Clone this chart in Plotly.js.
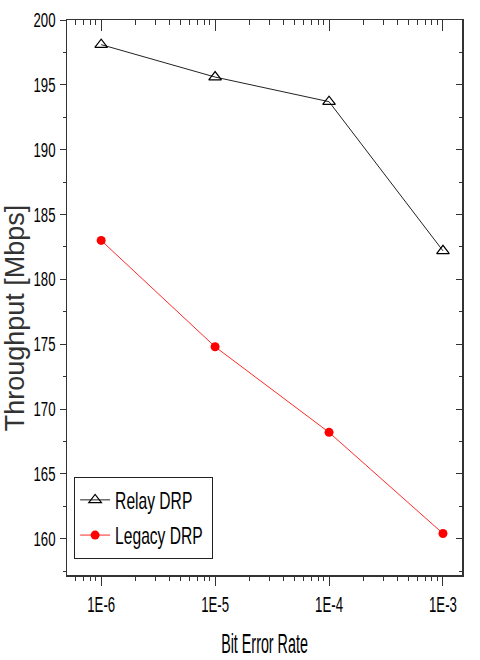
<!DOCTYPE html>
<html><head><meta charset="utf-8">
<script src="https://cdn.plot.ly/plotly-3.0.1.min.js"></script>
<style>html,body{margin:0;padding:0;background:#fff}</style>
</head><body>
<div id="chart" style="width:480px;height:660px"></div>
<script>
const ber = [1e-6, 1e-5, 1e-4, 1e-3];
const berLabels = ["1E-6", "1E-5", "1E-4", "1E-3"];
const relayDRP = [198.1, 195.6, 193.7, 182.2];
const legacyDRP = [183.0, 174.8, 168.2, 160.4];
const yTicks = [160, 165, 170, 175, 180, 185, 190, 195, 200];

const sans = "Liberation Sans, Arial, sans-serif";
const data = [
  {x: ber, y: relayDRP, name: "Relay DRP", legendgroup: "a", mode: "lines+markers", type: "scatter",
   line: {color: "#222", width: 1},
   marker: {symbol: "triangle-up-open", size: 11, color: "#000", line: {width: 1.2}}},
  {x: ber, y: legacyDRP, name: "Legacy DRP", legendgroup: "b", mode: "lines+markers", type: "scatter",
   line: {color: "#ff2a2a", width: 1},
   marker: {symbol: "circle", size: 9, color: "#ff0000"}},
  {x: ber, y: relayDRP, xaxis: "x2", yaxis: "y2", mode: "markers", showlegend: false,
   hoverinfo: "skip", marker: {opacity: 0}}
];
const xr = [Math.log10(1e-6) - 0.3, Math.log10(1e-3) + 0.167];
const yr = [157.2, 200];
const layout = {
  width: 480, height: 660,
  margin: {l: 67, r: 18, t: 20, b: 85},
  paper_bgcolor: "#fff", plot_bgcolor: "#fff",
  showlegend: true,
  legend: {x: 0.018, y: 0.177, xanchor: "left", yanchor: "top",
    bordercolor: "#222", borderwidth: 1, bgcolor: "#fff",
    font: {family: sans, size: 24, color: "#000"}, tracegroupgap: 1, itemwidth: 30},
  xaxis: {type: "log", range: xr, tickmode: "array", tickvals: ber, ticktext: berLabels,
    ticks: "outside", ticklen: 9, tickwidth: 1, tickcolor: "#333",
    minor: {ticks: "outside", ticklen: 4, dtick: "D1", tickcolor: "#333"},
    showline: true, linecolor: "#333", linewidth: 1.5, showgrid: false, zeroline: false,
    tickfont: {family: sans, size: 22, color: "#000"},
    title: {text: "Bit Error Rate", font: {family: sans, size: 27, color: "#000"}, standoff: 18}},
  yaxis: {range: yr, tickmode: "array", tickvals: yTicks, ticktext: yTicks.map(String),
    ticks: "outside", ticklen: 6, tickwidth: 1, tickcolor: "#333",
    minor: {ticks: "outside", ticklen: 3, dtick: 2.5, tickcolor: "#333"},
    showline: true, linecolor: "#333", linewidth: 1.5, showgrid: false, zeroline: false,
    tickfont: {family: sans, size: 20, color: "#000"}},
  xaxis2: {type: "log", range: xr, overlaying: "x", side: "top", tickmode: "array", tickvals: ber,
    showticklabels: false, ticks: "inside", ticklen: 11, tickwidth: 1, tickcolor: "#333",
    minor: {ticks: "inside", ticklen: 5, dtick: "D1", tickcolor: "#333"},
    showline: true, linecolor: "#333", linewidth: 1.5, showgrid: false, zeroline: false},
  yaxis2: {range: yr, overlaying: "y", side: "right", tickmode: "array", tickvals: yTicks,
    showticklabels: false, ticks: "inside", ticklen: 6, tickwidth: 1, tickcolor: "#333",
    minor: {ticks: "inside", ticklen: 3, dtick: 2.5, tickcolor: "#333"},
    showline: true, linecolor: "#333", linewidth: 1.5, showgrid: false, zeroline: false},
  annotations: [{text: "Throughput [Mbps]", xref: "paper", yref: "paper",
    x: -0.131, y: 0.463, xanchor: "center", yanchor: "middle", textangle: -90, showarrow: false,
    font: {family: sans, size: 27, color: "#333"}}]
};
function squeeze(root, sel, ratio) {
  root.querySelectorAll(sel).forEach(t => {
    const L = t.getComputedTextLength();
    if (L > 0) {
      t.setAttribute("textLength", (L * ratio).toFixed(1));
      t.setAttribute("lengthAdjust", "spacingAndGlyphs");
    }
  });
}
const gd = document.getElementById("chart");
Plotly.newPlot(gd, data, layout, {displayModeBar: false, staticPlot: true}).then(() => {
  squeeze(gd, ".xtick text", 0.6);
  squeeze(gd, ".ytick text", 0.66);
  squeeze(gd, "text.xtitle", 0.53);
  let maxL = 0;
  gd.querySelectorAll("text.legendtext").forEach(t => {
    maxL = Math.max(maxL, t.getComputedTextLength());
  });
  squeeze(gd, "text.legendtext", 0.65);
  const bg = gd.querySelector(".legend rect.bg");
  if (bg) {
    const w = parseFloat(bg.getAttribute("width"));
    bg.setAttribute("width", (w - maxL * 0.35 + 4).toFixed(1));
  }
});
</script>
</body></html>
